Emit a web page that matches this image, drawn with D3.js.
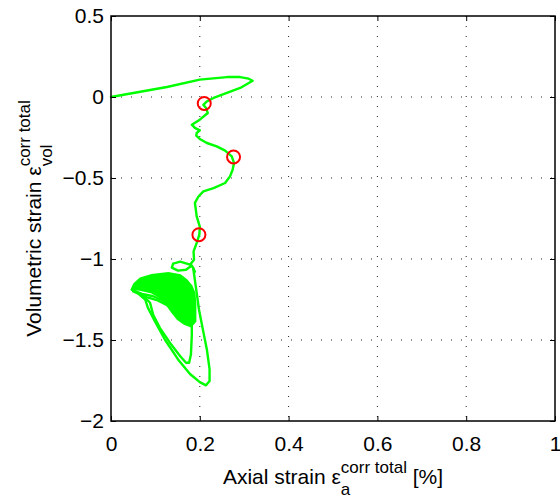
<!DOCTYPE html>
<html><head><meta charset="utf-8">
<script src="https://cdn.jsdelivr.net/npm/d3@7"></script>
<style>body{margin:0;background:#fff}svg{display:block}text{font-family:"Liberation Sans",Arial,Helvetica,sans-serif}</style>
</head><body><svg id="c" width="560" height="499"></svg>
<script>
const xTicks=[0,0.2,0.4,0.6,0.8,1];
const yTicks=[0.5,0,-0.5,-1,-1.5,-2];
const xTickLabels=["0","0.2","0.4","0.6","0.8","1"];
const yTickLabels=["0.5","0","\u22120.5","\u22121","\u22121.5","\u22122"];
// main loading path
const pathX=[0,0.126,0.2,0.261,0.291,0.31,0.319,0.291,0.261,0.231,0.216,0.208,0.214,0.218,0.2,0.182,0.189,0.2,0.193,0.192,0.2,0.216,0.238,0.257,0.272,0.277,0.274,0.268,0.257,0.231,0.208,0.197,0.189,0.193,0.2,0.199,0.193,0.186,0.187,0.178,0.156,0.14,0.137,0.151,0.169,0.182,0.189];
const pathY=[0,0.062,0.107,0.123,0.123,0.113,0.10,0.056,0.025,-0.006,-0.027,-0.048,-0.068,-0.099,-0.14,-0.171,-0.191,-0.206,-0.222,-0.239,-0.259,-0.284,-0.305,-0.331,-0.367,-0.407,-0.449,-0.49,-0.531,-0.562,-0.583,-0.614,-0.654,-0.737,-0.80,-0.85,-0.90,-0.953,-1.004,-1.035,-1.016,-1.028,-1.053,-1.072,-1.066,-1.04,-1.078];
// dense cyclic band outline
const blobX=[0.047,0.052,0.066,0.092,0.129,0.156,0.170,0.181,0.188,0.190,0.190,0.180,0.165,0.150,0.138,0.125,0.110,0.090,0.065];
const blobY=[-1.185,-1.155,-1.12,-1.098,-1.086,-1.10,-1.13,-1.165,-1.21,-1.28,-1.385,-1.416,-1.40,-1.37,-1.33,-1.28,-1.235,-1.205,-1.19];
// individual cycle traces below the band
const cycAX=[0.047,0.07,0.095,0.12,0.14,0.16,0.175];
const cycAY=[-1.19,-1.215,-1.23,-1.26,-1.30,-1.36,-1.40];
const cycBX=[0.05,0.08,0.105,0.13,0.15];
const cycBY=[-1.20,-1.235,-1.255,-1.29,-1.335];
// outer loop
const outerX=[0.185,0.192,0.198,0.207,0.216,0.222,0.222,0.214,0.2,0.178,0.151,0.122,0.099,0.083,0.077,0.06];
const outerY=[-1.053,-1.19,-1.31,-1.436,-1.56,-1.68,-1.753,-1.78,-1.76,-1.71,-1.62,-1.50,-1.386,-1.30,-1.25,-1.21];
// inner loop
const innerX=[0.07,0.088,0.095,0.11,0.133,0.156,0.169,0.176,0.180,0.182,0.182,0.183];
const innerY=[-1.22,-1.27,-1.345,-1.425,-1.518,-1.60,-1.64,-1.64,-1.59,-1.47,-1.34,-1.25];
// marked points
const markX=[0.21,0.276,0.198];
const markY=[-0.04,-0.37,-0.85];

const L=111,R=555,T=16,B=421;
const FS=21, SFS=17;
const x=d3.scaleLinear().domain([0,1]).range([L,R]);
const y=d3.scaleLinear().domain([-2,0.5]).range([B,T]);
const svg=d3.select("#c");
const zip=(a,b)=>a.map((v,i)=>[v,b[i]]);
const line=d3.line().x(d=>x(d[0])).y(d=>y(d[1]));

// grid
const g=svg.append("g");
xTicks.slice(1,-1).forEach(t=>g.append("line").attr("x1",x(t)).attr("x2",x(t)).attr("y1",T).attr("y2",B)
  .attr("stroke","#222").attr("stroke-width",1).attr("stroke-dasharray","1,9"));
yTicks.slice(1,-1).forEach(t=>g.append("line").attr("y1",y(t)).attr("y2",y(t)).attr("x1",L).attr("x2",R)
  .attr("stroke","#222").attr("stroke-width",1).attr("stroke-dasharray","1,9"));

const green="#00ff00";
svg.append("path").attr("d",line(zip(blobX,blobY))+"Z").attr("fill",green).attr("stroke",green).attr("stroke-width",2);
[[pathX,pathY],[cycAX,cycAY],[cycBX,cycBY],[outerX,outerY],[innerX,innerY]].forEach(([a,b])=>
  svg.append("path").attr("d",line(zip(a,b))).attr("fill","none").attr("stroke",green).attr("stroke-width",2.4).attr("stroke-linejoin","round").attr("stroke-linecap","round"));
svg.selectAll("circle.m").data(zip(markX,markY)).enter().append("circle")
  .attr("cx",d=>x(d[0])).attr("cy",d=>y(d[1])).attr("r",6.5).attr("fill","none").attr("stroke","#ff0000").attr("stroke-width",2);

// axes box and ticks
const axB=svg.append("g").attr("transform",`translate(0,${B})`).call(d3.axisBottom(x).tickValues(xTicks).tickFormat((d,i)=>xTickLabels[i]).tickSizeInner(-5).tickSizeOuter(0).tickPadding(15));
const axT=svg.append("g").attr("transform",`translate(0,${T})`).call(d3.axisTop(x).tickValues(xTicks).tickFormat("").tickSizeInner(-5).tickSizeOuter(0));
const axL=svg.append("g").attr("transform",`translate(${L},0)`).call(d3.axisLeft(y).tickValues(yTicks).tickFormat((d,i)=>yTickLabels[i]).tickSizeInner(-5).tickSizeOuter(0).tickPadding(7));
const axR=svg.append("g").attr("transform",`translate(${R},0)`).call(d3.axisRight(y).tickValues(yTicks).tickFormat("").tickSizeInner(-5).tickSizeOuter(0));
[axB,axT,axL,axR].forEach(a=>{a.select(".domain").remove();a.selectAll("line").attr("stroke","#000");a.selectAll("text").attr("font-size",FS).attr("fill","#000").attr("font-family","'Liberation Sans',Arial,sans-serif");});
svg.append("rect").attr("x",L).attr("y",T).attr("width",R-L).attr("height",B-T).attr("fill","none").attr("stroke","#000").attr("stroke-width",1.5);

// axis titles with sub/superscripts
function title(g, main, sup, sub, tail){
  const t=g.append("text").attr("font-size",FS).attr("fill","#000");
  t.append("tspan").text(main);
  const s1=t.append("tspan").attr("font-size",SFS).attr("dy",-11).text(sup);
  const supLen=s1.node().getComputedTextLength();
  const s2=t.append("tspan").attr("font-size",SFS).attr("dy",22).attr("dx",-supLen).text(sub);
  const subLen=s2.node().getComputedTextLength();
  if(tail) t.append("tspan").attr("dy",-11).attr("dx",Math.max(0,supLen-subLen)).text(tail);
  return {t,w:t.node().getBBox().width};
}
const gx=svg.append("g");
const tx=title(gx,"Axial strain \u03b5","corr total","a"," [%]");
gx.attr("transform",`translate(${(L+R)/2-tx.w/2},484)`);
const gy=svg.append("g");
const ty=title(gy,"Volumetric strain \u03b5","corr total","vol","");
gy.attr("transform",`translate(41,${(T+B)/2+ty.w/2}) rotate(-90)`);
</script></body></html>
